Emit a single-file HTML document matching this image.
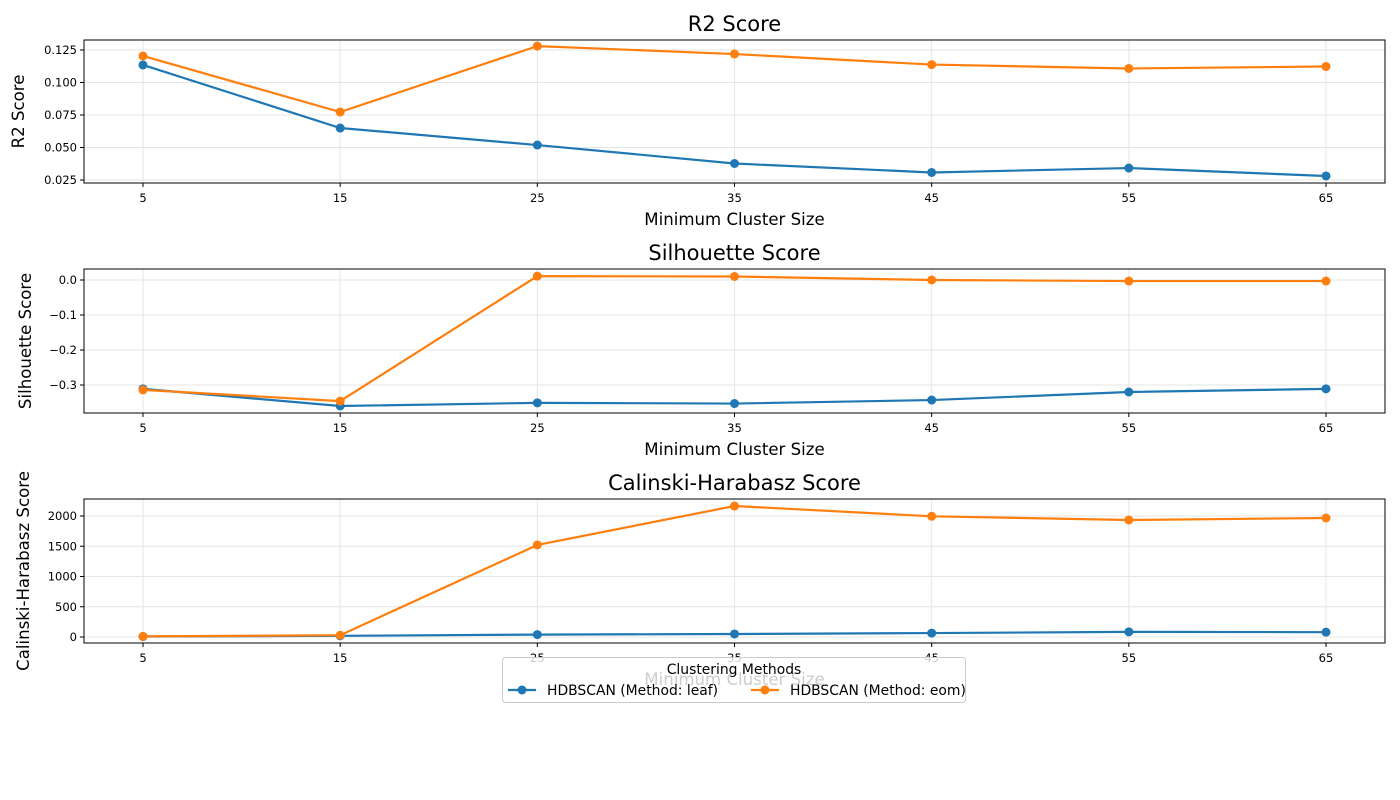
<!DOCTYPE html>
<html><head><meta charset="utf-8"><style>
body{margin:0;background:#fff;}
svg{display:block;font-family:"DejaVu Sans","Liberation Sans",sans-serif;}
</style></head><body>
<svg id="chart" width="1400" height="800" viewBox="0 0 1400 800"></svg>
<script>
const categories=[5,15,25,35,45,55,65];
const r2Leaf=[0.1135,0.065,0.0519,0.0377,0.0308,0.0342,0.0281];
const r2Eom=[0.1204,0.0773,0.128,0.1219,0.1138,0.1108,0.1123];
const silLeaf=[-0.311,-0.36,-0.351,-0.353,-0.343,-0.32,-0.311];
const silEom=[-0.314,-0.346,0.011,0.010,0.0,-0.003,-0.003];
const chLeaf=[8,20,40,50,65,85,80];
const chEom=[10,30,1521,2165,1995,1934,1967];
const r2Ticks=[0.025,0.050,0.075,0.100,0.125];
const r2TickLabels=["0.025","0.050","0.075","0.100","0.125"];
const silTicks=[-0.3,-0.2,-0.1,0.0];
const silTickLabels=["−0.3","−0.2","−0.1","0.0"];
const chTicks=[0,500,1000,1500,2000];
const chTickLabels=["0","500","1000","1500","2000"];

const NS="http://www.w3.org/2000/svg";
const svg=document.getElementById('chart');
function mk(tag,attrs,parent,text){const e=document.createElementNS(NS,tag);for(const k in attrs)e.setAttribute(k,attrs[k]);if(text!==undefined)e.textContent=text;(parent||svg).appendChild(e);return e;}
const X0=84,X1=1385;
function xs(v){return 143+(v-5)*(1326-143)/60;}

const panels=[
 {name:'r2',title:'R2 Score',ylabel:'R2 Score',top:40,bot:183,ymin:0.0227,ymax:0.1327,ticks:r2Ticks,labels:r2TickLabels,leaf:r2Leaf,eom:r2Eom,ylx:24},
 {name:'silhouette',title:'Silhouette Score',ylabel:'Silhouette Score',top:269,bot:413,ymin:-0.38,ymax:0.0314,ticks:silTicks,labels:silTickLabels,leaf:silLeaf,eom:silEom,ylx:31},
 {name:'calinski',title:'Calinski-Harabasz Score',ylabel:'Calinski-Harabasz Score',top:499,bot:643,ymin:-99,ymax:2281,ticks:chTicks,labels:chTickLabels,leaf:chLeaf,eom:chEom,ylx:29}
];
panels.forEach(p=>{
 const g=mk('g',{});
 
 
 const ys=v=>p.bot-(v-p.ymin)/(p.ymax-p.ymin)*(p.bot-p.top);
 categories.forEach(c=>{mk('line',{x1:xs(c),x2:xs(c),y1:p.top,y2:p.bot,stroke:'#e6e6e6','stroke-width':1},g);});
 p.ticks.forEach((t,i)=>{const y=ys(t);
  mk('line',{x1:X0,x2:X1,y1:y,y2:y,stroke:'#e6e6e6','stroke-width':1},g);
  mk('line',{x1:X0-4,x2:X0,y1:y,y2:y,stroke:'#000','stroke-width':1},g);
  const tl=mk('text',{x:X0-7,y:y+4,'font-size':11.5,'text-anchor':'end',fill:'#000'},g,p.labels[i]);
  
  
 });
 categories.forEach(c=>{
  mk('line',{x1:xs(c),x2:xs(c),y1:p.bot,y2:p.bot+4,stroke:'#000'},g);
  const tl=mk('text',{x:xs(c),y:p.bot+19,'font-size':11.5,'text-anchor':'middle'},g,String(c));
  
  
 });
 const series=[[p.leaf,'#1f77b4','leaf'],[p.eom,'#ff7f0e','eom']];
 series.forEach(([vals,col,nm])=>{
  const pts=vals.map((v,i)=>xs(categories[i])+','+ys(v)).join(' ');
  const l=mk('polyline',{points:pts,fill:'none',stroke:col,'stroke-width':2.2},g);
  
  
  vals.forEach((v,i)=>{const c=mk('circle',{cx:xs(categories[i]),cy:ys(v),r:4.5,fill:col},g);
   
   });
 });
 mk('rect',{x:X0,y:p.top,width:X1-X0,height:p.bot-p.top,fill:'none',stroke:'#000','stroke-width':1},g);
 const t=mk('text',{x:(X0+X1)/2,y:p.top-9,'font-size':21,'text-anchor':'middle'},g,p.title);
 
 
 const xl=mk('text',{x:(X0+X1)/2,y:p.bot+42,'font-size':16.6,'text-anchor':'middle'},g,'Minimum Cluster Size');
 
 
 const cy=(p.top+p.bot)/2;
 const yl=mk('text',{x:0,y:0,'font-size':16.6,'text-anchor':'middle',transform:'translate('+p.ylx+','+cy+') rotate(-90)'},g,p.ylabel);
 
 
});
const lg=mk('g',{});


mk('rect',{x:502.5,y:657.5,width:463,height:45,rx:3,fill:'#fff','fill-opacity':0.8,stroke:'#ccc'},lg);
mk('text',{x:734,y:674,'font-size':13.9,'text-anchor':'middle'},lg,'Clustering Methods');
[[508,'#1f77b4','HDBSCAN (Method: leaf)'],[751,'#ff7f0e','HDBSCAN (Method: eom)']].forEach(([x,c,t])=>{
 const e=mk('g',{},lg);
 
 
 mk('line',{x1:x,x2:x+28,y1:690,y2:690,stroke:c,'stroke-width':2.2},e);
 mk('circle',{cx:x+14,cy:690,r:4.5,fill:c},e);
 mk('text',{x:x+39,y:695,'font-size':13.9},e,t);
});
</script>
</body></html>
